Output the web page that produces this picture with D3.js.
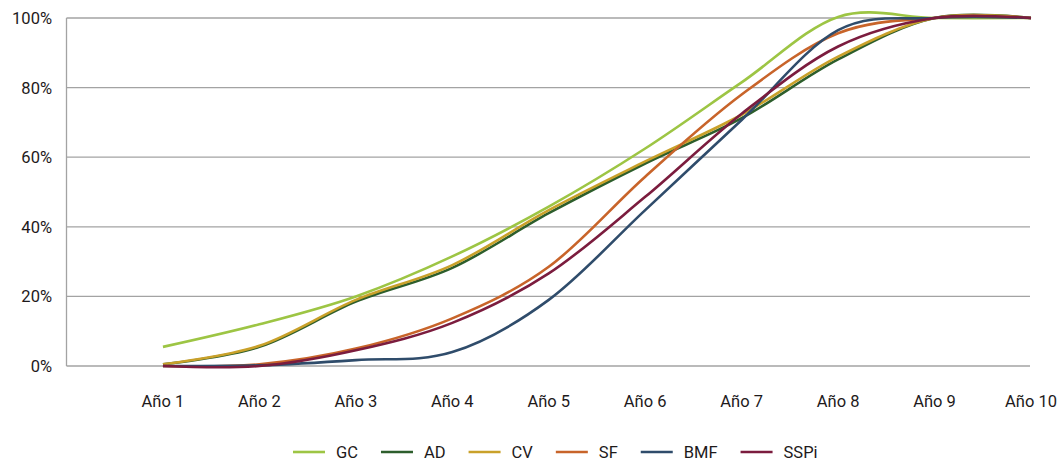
<!DOCTYPE html>
<html>
<head>
<meta charset="utf-8">
<script src="https://cdn.jsdelivr.net/npm/d3@7"></script>
<style>
  html, body { margin: 0; padding: 0; background: #fff; }
  svg { display: block; }
  text { font-family: Roboto, "Noto Sans", sans-serif; fill: #1e1a1b; }
</style>
</head>
<body>
<svg id="chart" width="1060" height="462"></svg>
<script>
const categories = ["Año 1","Año 2","Año 3","Año 4","Año 5","Año 6","Año 7","Año 8","Año 9","Año 10"];
const yTicks = [0, 20, 40, 60, 80, 100];
const seriesNames = ["GC","AD","CV","SF","BMF","SSPi"];
const seriesColors = ["#9dc544","#2d5e2c","#c9a12a","#c8642a","#2f4c6b","#7b1c3e"];
const GC   = [5.5, 12.0, 20.0, 31.5, 45.8, 62.5, 81.5, 100.3, 100, 100];
const AD   = [0.5, 5.5, 18.5, 28.2, 43.9, 58.2, 71.2, 88.1, 100, 100];
const CV   = [0.5, 5.8, 19.0, 29.0, 44.8, 58.8, 72.2, 88.9, 100, 100];
const SF   = [0.0, 0.5, 5.0, 13.7, 28.5, 54.4, 78.0, 95.6, 100, 100];
const BMF  = [0.0, 0.2, 1.7, 4.0, 19.0, 44.8, 70.7, 96.5, 100, 100];
const SSPi = [0.0, 0.0, 4.5, 12.4, 26.6, 48.6, 72.5, 91.8, 100, 100];
const seriesValues = [GC, AD, CV, SF, BMF, SSPi];

const svg = d3.select("#chart");
const plotLeft = 66.5, plotRight = 1031, plotTop = 18, plotBottom = 366;

const x = d3.scaleLinear().domain([0, categories.length]).range([plotLeft, plotRight]);
const y = d3.scaleLinear().domain([0, 100]).range([plotBottom, plotTop]);

// gridlines
svg.append("g").selectAll("line").data(yTicks).join("line")
  .attr("x1", plotLeft).attr("x2", 1030)
  .attr("y1", d => y(d)).attr("y2", d => y(d))
  .attr("stroke", "#a3a3a3").attr("stroke-width", 1.3);

// left axis line
svg.append("line").attr("x1", plotLeft).attr("x2", plotLeft)
  .attr("y1", y(100)).attr("y2", y(0))
  .attr("stroke", "#a3a3a3").attr("stroke-width", 1.3);

// y labels
svg.append("g").selectAll("text").data(yTicks).join("text")
  .attr("x", 52).attr("y", d => y(d)).attr("dy", "0.36em")
  .attr("text-anchor", "end").attr("font-size", 16.5)
  .text(d => d + "%");

// x labels
svg.append("g").selectAll("text").data(categories).join("text")
  .attr("x", (d, i) => x(i + 1)).attr("y", 407)
  .attr("text-anchor", "middle").attr("font-size", 16.5)
  .text(d => d);

// lines
const line = d3.line()
  .x((d, i) => x(i + 1))
  .y(d => y(d))
  .curve(d3.curveCardinal.tension(0));

svg.append("g").selectAll("path").data(seriesValues).join("path")
  .attr("d", d => line(d))
  .attr("fill", "none")
  .attr("stroke", (d, i) => seriesColors[i])
  .attr("stroke-width", 2.6)
  .attr("stroke-linejoin", "round");

// legend
const lg = svg.append("g");
let cx = 293;
const ly = 452;
seriesNames.forEach((name, i) => {
  lg.append("line").attr("x1", cx).attr("x2", cx + 32)
    .attr("y1", ly).attr("y2", ly)
    .attr("stroke", seriesColors[i]).attr("stroke-width", 2.6);
  const t = lg.append("text").attr("x", cx + 43).attr("y", ly).attr("dy", "0.36em")
    .attr("font-size", 16.5).text(name);
  cx = cx + 43 + t.node().getComputedTextLength() + 23;
});
</script>
</body>
</html>
